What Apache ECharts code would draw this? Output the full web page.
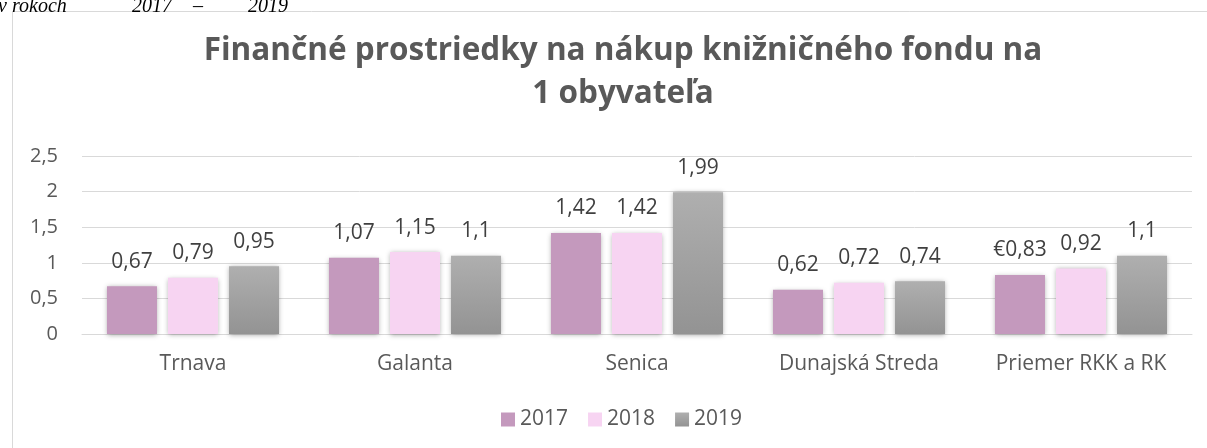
<!DOCTYPE html>
<html>
<head>
<meta charset="utf-8">
<script src="https://cdn.jsdelivr.net/npm/echarts@6/dist/echarts.min.js"></script>
<style>
html,body{margin:0;padding:0;background:#fff;}
#chart{width:1207px;height:448px;}
</style>
</head>
<body>
<div id="chart"></div>
<script>
const categories = ['Trnava', 'Galanta', 'Senica', 'Dunajská Streda', 'Priemer RKK a RK'];
const seriesNames = ['2017', '2018', '2019'];
const values2017 = [0.67, 1.07, 1.42, 0.62, 0.83];
const values2018 = [0.79, 1.15, 1.42, 0.72, 0.92];
const values2019 = [0.95, 1.1, 1.99, 0.74, 1.1];
const labelPrefix2017 = ['', '', '', '', '€'];
const yTicks = [0, 0.5, 1, 1.5, 2, 2.5];
const titleText = 'Finančné prostriedky na nákup knižničného fondu na\n1 obyvateľa';

const FONT = '"Open Sans"';
const chart = echarts.init(document.getElementById('chart'));
const fmt = v => String(v).replace('.', ',');
const shadow = {shadowBlur: 5, shadowColor: 'rgba(0,0,0,0.35)', shadowOffsetX: 0, shadowOffsetY: 1};

function makeSeries(name, vals, color, prefixes) {
  return {
    name: name,
    type: 'bar',
    data: vals.map((v, i) => ({
      value: v,
      label: {formatter: (prefixes ? prefixes[i] : '') + fmt(v)}
    })),
    barGap: '22%',
    barCategoryGap: '22.5%',
    itemStyle: Object.assign({color: color}, shadow),
    label: {
      show: true,
      position: 'top',
      distance: 14,
      color: '#404040',
      fontFamily: FONT,
      fontSize: 21
    }
  };
}

const gray = new echarts.graphic.LinearGradient(0, 0, 0, 1, [
  {offset: 0, color: '#afafaf'},
  {offset: 1, color: '#939393'}
]);

const serif = 'italic 20px "Liberation Serif"';

chart.setOption({
  animation: false,
  title: {
    text: titleText,
    left: 618,
    top: 25,
    textAlign: 'center',
    textStyle: {
      fontFamily: FONT,
      fontWeight: 'bold',
      fontSize: 31.5,
      lineHeight: 43,
      color: '#595959'
    }
  },
  legend: {
    data: seriesNames,
    left: 501,
    top: 409,
    padding: 0,
    itemWidth: 14,
    itemHeight: 14,
    itemGap: 20,
    icon: 'rect',
    textStyle: {fontFamily: FONT, fontSize: 21, color: '#595959'}
  },
  grid: {left: 82, right: 15, top: 156, bottom: 114, containLabel: false},
  xAxis: {
    type: 'category',
    data: categories,
    axisLine: {lineStyle: {color: '#d9d9d9', width: 1}},
    axisTick: {show: false},
    axisLabel: {fontFamily: FONT, fontSize: 21, color: '#595959', margin: 20}
  },
  yAxis: {
    type: 'value',
    min: yTicks[0],
    max: yTicks[yTicks.length - 1],
    interval: yTicks[1] - yTicks[0],
    axisLine: {show: false},
    axisTick: {show: false},
    splitLine: {lineStyle: {color: '#d9d9d9', width: 1}},
    axisLabel: {fontFamily: FONT, fontSize: 20, color: '#595959', margin: 24, formatter: fmt}
  },
  graphic: [
    {type: 'rect', shape: {x: 12.5, y: 11.5, width: 1300, height: 600}, style: {fill: 'none', stroke: '#d9d9d9', lineWidth: 1}, z: -1},
    {type: 'text', x: -2, y: 17, style: {text: 'v', font: serif, fill: '#000', verticalAlign: 'bottom'}},
    {type: 'text', x: 12, y: 17, style: {text: 'rokoch', font: serif, fill: '#000', verticalAlign: 'bottom'}},
    {type: 'text', x: 132, y: 17, style: {text: '2017', font: serif, fill: '#000', verticalAlign: 'bottom'}},
    {type: 'text', x: 193, y: 17, style: {text: '–', font: serif, fill: '#000', verticalAlign: 'bottom'}},
    {type: 'text', x: 248, y: 17, style: {text: '2019', font: serif, fill: '#000', verticalAlign: 'bottom'}}
  ],
  series: [
    makeSeries(seriesNames[0], values2017, '#c499bd', labelPrefix2017),
    makeSeries(seriesNames[1], values2018, '#f7d4f2'),
    makeSeries(seriesNames[2], values2019, gray)
  ]
});
</script>
</body>
</html>
